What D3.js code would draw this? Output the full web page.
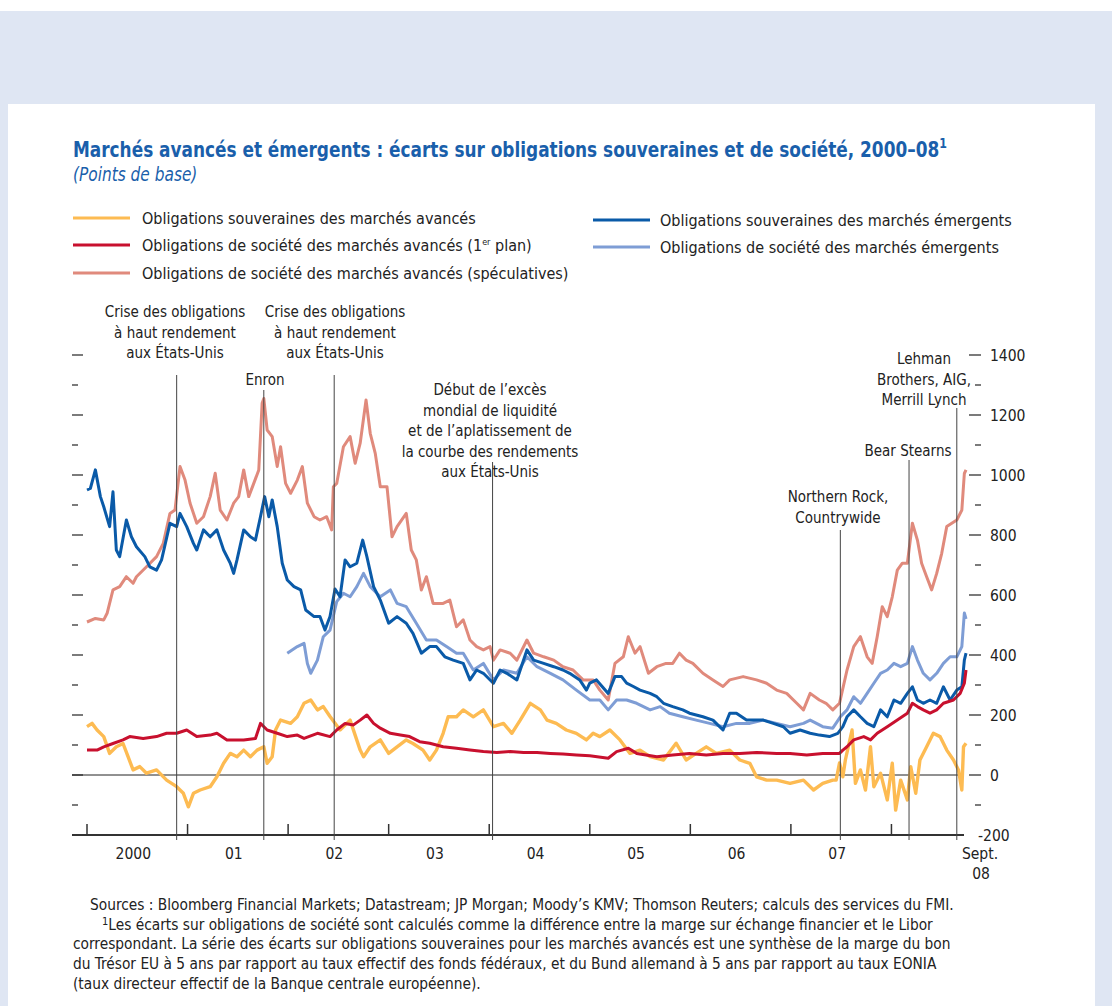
<!DOCTYPE html>
<html>
<head>
<meta charset="utf-8">
<script src="https://cdn.jsdelivr.net/npm/d3@7"></script>
<style>
  body { margin: 0; background: #fff; }
  svg text { font-family: "Liberation Sans Narrow", "DejaVu Sans Condensed", "Roboto Condensed", Roboto, sans-serif; }
</style>
</head>
<body>
<div id="chart"></div>
<script>
// Donnees : [mois depuis janv. 2000, points de base]
const matSov = [[0,161],[0.6,172],[1.2,150],[2.0,128],[2.7,72],[3.5,94],[4.3,105],[4.9,61],[5.5,17],[6.3,28],[7.1,6],[8.3,17],[9.5,-17],[10.7,-39],[11.5,-61],[12.1,-106],[12.7,-61],[13.5,-50],[14.7,-39],[15.5,-6],[16.3,39],[17.1,72],[17.9,61],[18.7,83],[19.5,61],[20.3,83],[21.1,94],[21.5,39],[22.1,61],[22.5,150],[23.1,183],[24.3,172],[25.1,194],[25.9,239],[26.7,250],[27.5,217],[28.2,228],[29.0,195],[30.2,150],[31.4,183],[32.6,83],[33.0,61],[33.8,94],[35.0,117],[36.0,72],[37.0,94],[38.1,117],[38.9,105],[40.1,83],[40.9,50],[41.7,83],[42.5,139],[43.1,194],[44.1,194],[44.9,217],[46.1,194],[47.3,217],[48.5,161],[49.7,172],[50.7,139],[51.7,183],[52.9,239],[54.1,217],[54.9,183],[56.0,172],[57.2,150],[58.4,139],[59.6,117],[60.4,139],[61.2,128],[62.4,150],[63.6,117],[64.8,72],[66.0,83],[67.2,61],[68.8,50],[70.3,106],[71.5,50],[72.7,72],[73.9,94],[75.1,72],[76.7,83],[77.9,50],[79.1,39],[79.9,-6],[81.1,-17],[82.3,-17],[83.9,-28],[85.5,-17],[86.7,-50],[87.8,-28],[89.0,-17],[89.4,-17],[89.8,40],[90.2,-6],[90.5,50],[91.3,150],[91.7,-28],[92.3,17],[92.9,-50],[93.5,94],[93.9,-39],[94.7,6],[95.5,-83],[96.1,39],[96.5,-117],[97.1,-17],[97.9,-83],[98.3,28],[98.9,-61],[99.4,50],[100.2,94],[101.0,139],[101.8,128],[102.6,83],[103.4,50],[104.0,17],[104.4,-50],[104.6,94],[104.9,106]]

const matCorpIG = [[0,83],[1.2,83],[2.0,94],[3.1,105],[4.3,117],[5.1,128],[6.7,122],[8.3,128],[9.5,139],[10.7,139],[11.9,150],[13.1,128],[14.7,133],[15.5,139],[16.7,117],[18.7,117],[20.1,122],[20.7,172],[21.5,150],[22.7,139],[23.9,128],[25.1,133],[25.9,122],[27.5,139],[29.0,128],[29.8,150],[30.8,172],[31.8,167],[32.6,183],[33.4,200],[34.2,172],[35.0,156],[36.2,139],[37.4,133],[38.5,128],[39.7,111],[40.9,106],[42.5,94],[44.1,89],[45.7,83],[47.3,78],[48.9,75],[50.5,78],[52.1,75],[53.7,75],[55.3,72],[56.8,70],[58.4,67],[60.0,64],[62.2,56],[63.2,78],[64.6,89],[65.6,72],[68.0,61],[69.9,67],[71.9,72],[73.9,67],[75.9,72],[77.9,72],[79.9,75],[82.3,72],[83.9,72],[85.9,67],[87.8,72],[89.8,72],[90.2,83],[90.7,94],[91.5,117],[92.7,128],[93.5,117],[94.3,139],[95.5,161],[96.7,183],[97.9,206],[98.5,239],[99.1,228],[99.8,217],[100.6,206],[101.4,217],[102.2,239],[103.4,250],[104.2,272],[104.7,306],[104.9,350]]

const matCorpHY = [[0,510],[1.0,522],[2.0,517],[2.4,539],[3.1,617],[3.9,628],[4.7,661],[5.5,639],[5.9,661],[7.1,694],[8.3,728],[9.1,772],[9.9,872],[10.5,883],[11.1,1028],[11.7,983],[12.3,906],[13.1,839],[13.9,861],[14.7,928],[15.3,1006],[15.9,883],[16.7,850],[17.5,906],[18.1,928],[18.7,1017],[19.3,928],[19.9,972],[20.5,1017],[20.9,1239],[21.1,1255],[21.5,1150],[22.1,1128],[22.7,1028],[23.1,1094],[23.7,972],[24.3,939],[25.1,983],[25.7,1028],[26.3,906],[27.1,861],[27.8,850],[28.6,861],[29.2,817],[29.4,961],[29.8,972],[30.6,1094],[31.4,1128],[32.0,1039],[32.6,1106],[33.3,1250],[33.8,1139],[34.4,1072],[35.0,961],[35.8,961],[36.4,794],[37.0,828],[38.1,872],[38.7,750],[39.3,717],[39.9,617],[40.5,661],[41.3,572],[42.5,572],[43.3,583],[44.1,494],[44.9,517],[45.7,450],[46.5,428],[47.3,417],[48.1,428],[48.5,383],[49.3,417],[50.5,406],[51.3,383],[52.5,450],[53.3,406],[54.5,394],[55.7,383],[56.8,361],[58.0,350],[59.2,317],[60.4,317],[61.2,283],[62.2,250],[63.0,372],[64.0,394],[64.6,461],[65.4,406],[66.0,428],[67.0,339],[68.0,361],[69.1,372],[69.9,372],[70.7,406],[71.5,383],[72.3,372],[73.5,339],[74.7,317],[75.9,295],[76.7,317],[78.3,328],[79.9,317],[81.1,306],[82.3,283],[83.5,272],[84.7,239],[85.5,217],[86.3,272],[87.4,250],[88.2,239],[89.0,217],[89.8,239],[90.7,350],[91.5,428],[92.3,461],[93.1,394],[93.7,372],[94.3,461],[94.9,561],[95.5,528],[96.1,594],[96.7,683],[97.3,706],[97.9,706],[98.5,839],[99.1,783],[99.6,706],[100.2,661],[100.8,617],[101.4,672],[102.0,739],[102.6,828],[103.2,839],[103.8,850],[104.4,883],[104.7,1005],[104.9,1017]]

const emSov = [[0,950],[0.4,955],[1.0,1017],[1.6,928],[2.0,894],[2.7,828],[3.1,944],[3.5,750],[3.9,728],[4.7,850],[5.3,794],[5.9,761],[6.9,728],[7.5,694],[8.3,683],[8.9,717],[9.9,839],[10.7,828],[11.1,872],[11.9,828],[12.7,772],[13.1,750],[13.9,817],[14.7,794],[15.5,817],[16.3,750],[17.1,706],[17.5,672],[17.9,717],[18.7,817],[19.5,794],[20.1,783],[20.7,861],[21.2,928],[21.7,861],[22.1,917],[22.7,828],[23.3,706],[23.9,650],[24.7,628],[25.5,617],[26.1,550],[27.1,528],[27.8,528],[28.4,483],[29.0,528],[29.6,620],[30.2,594],[30.8,717],[31.4,694],[32.2,706],[32.9,783],[33.4,728],[34.2,628],[35.0,583],[36.0,506],[37.0,528],[38.1,506],[38.9,472],[39.9,406],[40.9,428],[41.7,428],[42.7,394],[43.7,383],[44.9,372],[45.7,317],[46.5,350],[47.3,339],[48.5,306],[49.3,350],[50.1,339],[51.3,317],[52.5,417],[53.3,383],[54.5,372],[55.7,361],[56.8,350],[57.6,339],[58.8,317],[59.6,283],[60.0,306],[60.8,317],[62.2,272],[63.0,328],[63.8,328],[64.4,306],[65.2,295],[66.0,283],[67.2,272],[68.0,261],[68.8,239],[69.9,228],[71.1,217],[71.9,206],[73.5,194],[74.7,183],[75.9,150],[76.7,206],[77.5,206],[78.7,183],[79.5,183],[80.7,183],[81.9,172],[83.1,161],[83.9,139],[85.1,150],[86.3,139],[87.4,133],[88.6,128],[89.6,139],[90.2,161],[90.7,194],[91.5,217],[92.3,194],[93.1,172],[93.9,161],[94.7,217],[95.5,194],[96.3,250],[97.1,239],[97.9,272],[98.5,294],[99.1,250],[99.8,239],[100.6,250],[101.4,239],[102.2,294],[103.0,250],[103.8,283],[104.4,294],[104.7,383],[104.9,406]]

const emCorp = [[23.9,406],[25.1,428],[25.9,439],[26.3,372],[26.7,339],[27.5,383],[28.2,461],[29.0,483],[29.8,578],[30.6,606],[31.4,594],[32.2,628],[33.0,672],[33.8,628],[35.0,594],[36.2,617],[37.0,572],[38.1,561],[39.3,506],[40.5,450],[41.7,450],[42.9,428],[44.1,406],[44.9,406],[46.1,350],[47.3,372],[48.5,317],[49.7,350],[51.3,339],[52.5,394],[53.7,361],[55.3,339],[56.8,317],[58.4,283],[60.0,250],[61.2,250],[62.2,217],[63.2,250],[64.4,250],[65.6,239],[67.2,217],[68.4,228],[69.5,206],[71.1,194],[72.7,183],[74.3,172],[75.9,161],[77.5,172],[79.1,172],[80.7,183],[82.3,172],[83.9,161],[85.5,172],[86.3,183],[87.8,161],[89.0,156],[89.9,194],[90.7,217],[91.5,261],[92.3,239],[93.1,272],[93.9,306],[94.7,339],[95.5,350],[96.3,372],[97.1,361],[97.9,372],[98.5,428],[99.1,383],[99.8,339],[100.6,317],[101.4,339],[102.2,372],[103.0,394],[103.8,394],[104.4,428],[104.7,540],[104.9,520]]

const seriesNames = [
  "Obligations souveraines des marchés avancés",
  "Obligations de société des marchés avancés (1er plan)",
  "Obligations de société des marchés avancés (spéculatives)",
  "Obligations souveraines des marchés émergents",
  "Obligations de société des marchés émergents"
]
const seriesColors = ["#fdbb52", "#c8102e", "#e08a7c", "#0a5aa8", "#7e9dd5"]
const seriesData = [matSov, matCorpIG, matCorpHY, emSov, emCorp]
const drawOrder = [0, 2, 4, 3, 1]

const yearLabels = ["2000", "01", "02", "03", "04", "05", "06", "07"]
const yTicks = d3.range(-100, 1401, 100)
const yLabels = d3.range(-200, 1401, 200)

const events = [
  {m: 10.7, label: ["Crise des obligations", "à haut rendement", "aux États-Unis"]},
  {m: 21.1, label: ["Enron"]},
  {m: 29.5, label: ["Crise des obligations", "à haut rendement", "aux États-Unis"]},
  {m: 48.4, label: ["Début de l’excès", "mondial de liquidité", "et de l’aplatissement de", "la courbe des rendements", "aux États-Unis"]},
  {m: 89.9, label: ["Northern Rock,", "Countrywide"]},
  {m: 98.1, label: ["Bear Stearns"]},
  {m: 103.8, label: ["Lehman", "Brothers, AIG,", "Merrill Lynch"]}
]
// placement des etiquettes (haut du trait, centre du texte, premiere ligne)
const eventLayout = [
  {top: 375, cx: 175, y0: 317},
  {top: 390, cx: 265, y0: 385},
  {top: 375, cx: 335, y0: 317},
  {top: 462, cx: 490, y0: 395},
  {top: 530, cx: 838, y0: 502},
  {top: 460, cx: 908, y0: 456},
  {top: 408, cx: 924, y0: 364}
]

const width = 1112, height = 1006
const svg = d3.select('#chart').append('svg').attr('width', width).attr('height', height)

// fond
svg.append('rect').attr('width', width).attr('height', height).attr('fill', '#fff')
svg.append('rect').attr('x', 0).attr('y', 11).attr('width', width).attr('height', height - 11).attr('fill', '#dfe6f3')
svg.append('rect').attr('x', 8).attr('y', 104).attr('width', 1087).attr('height', height - 104).attr('fill', '#fff')

const x = d3.scaleLinear().domain([0, 108]).range([87, 992])
const y = d3.scaleLinear().domain([-200, 1400]).range([835, 355])
const plotLeft = 72, plotRight = 964

// titre (police resserree horizontalement)
const title = svg.append('text').attr('transform', 'translate(73,157) scale(0.875,1)')
  .attr('fill', '#1a5fab').attr('font-size', 21.5).attr('font-weight', 'bold')
  .text('Marchés avancés et émergents : écarts sur obligations souveraines et de société, 2000–08')
title.append('tspan').attr('dy', -9).attr('font-size', 14).text('1')
svg.append('text').attr('transform', 'translate(73,181) scale(0.9,1)')
  .attr('fill', '#1a5fab').attr('font-size', 19).attr('font-style', 'italic')
  .text('(Points de base)')

// legende
const legendPos = [[73, 218], [73, 245], [73, 273], [593, 220], [593, 247]]
seriesNames.forEach((name, i) => {
  const [lx, ly] = legendPos[i]
  const g = svg.append('g').attr('transform', `translate(${lx},${ly})`)
  g.append('line').attr('x1', 0).attr('x2', 57).attr('stroke', seriesColors[i]).attr('stroke-width', 3)
  const t = g.append('text').attr('x', i < 3 ? 69 : 67).attr('y', 6).attr('font-size', 16).attr('fill', '#222')
  if (name.includes('1er')) {
    t.append('tspan').text('Obligations de société des marchés avancés (1')
    t.append('tspan').attr('font-size', 9).attr('dy', -6).text('er')
    t.append('tspan').attr('dy', 6).text(' plan)')
  } else {
    t.text(name)
  }
})

// axes
const axisG = svg.append('g')
yTicks.forEach(v => {
  const major = v % 200 === 0
  axisG.append('line').attr('x1', plotLeft).attr('x2', plotLeft + (major ? 11 : 6))
    .attr('y1', y(v)).attr('y2', y(v)).attr('stroke', '#333').attr('stroke-width', 1.3)
  axisG.append('line').attr('x1', 981 - (major ? 12 : 6)).attr('x2', 981)
    .attr('y1', y(v)).attr('y2', y(v)).attr('stroke', '#333').attr('stroke-width', 1.3)
})
yLabels.forEach(v => {
  axisG.append('text').attr('x', v < 0 ? 978 : 990).attr('y', y(v) + 5.5)
    .attr('font-size', 15.5).attr('fill', '#222').text(v)
})
axisG.append('line').attr('x1', plotLeft).attr('x2', plotRight).attr('y1', y(0)).attr('y2', y(0))
  .attr('stroke', '#222').attr('stroke-width', 1)
axisG.append('line').attr('x1', plotLeft).attr('x2', plotRight).attr('y1', y(-200)).attr('y2', y(-200))
  .attr('stroke', '#333').attr('stroke-width', 2)
d3.range(0, 97, 12).forEach(m => {
  axisG.append('line').attr('x1', x(m)).attr('x2', x(m)).attr('y1', y(-200)).attr('y2', y(-200) - 11)
    .attr('stroke', '#333').attr('stroke-width', 1.5)
})
yearLabels.forEach((lab, i) => {
  axisG.append('text').attr('x', x(i * 12 + 6) - 4).attr('y', 859).attr('text-anchor', 'middle')
    .attr('font-size', 15.5).attr('fill', '#222').text(lab)
})
axisG.append('text').attr('x', 980).attr('y', 859).attr('text-anchor', 'middle').attr('font-size', 15.5).attr('fill', '#222').text('Sept.')
axisG.append('text').attr('x', 981).attr('y', 879).attr('text-anchor', 'middle').attr('font-size', 15.5).attr('fill', '#222').text('08')

// series
const line = d3.line().x(d => x(d[0])).y(d => y(d[1]))
drawOrder.forEach(i => {
  svg.append('path').datum(seriesData[i]).attr('d', line)
    .attr('fill', 'none').attr('stroke', seriesColors[i]).attr('stroke-width', i === 0 ? 3.4 : 3)
    .attr('stroke-linejoin', 'round')
})

// evenements
events.forEach((ev, i) => {
  const lay = eventLayout[i]
  svg.append('line').attr('x1', x(ev.m)).attr('x2', x(ev.m)).attr('y1', lay.top).attr('y2', 840)
    .attr('stroke', '#444').attr('stroke-width', 1)
  ev.label.forEach((l, j) => {
    svg.append('text').attr('x', lay.cx).attr('y', lay.y0 + j * 20.5).attr('text-anchor', 'middle')
      .attr('font-size', 15).attr('fill', '#222').text(l)
  })
})

// notes
const notes = [
  "Sources : Bloomberg Financial Markets; Datastream; JP Morgan; Moody’s KMV; Thomson Reuters; calculs des services du FMI.",
  "Les écarts sur obligations de société sont calculés comme la différence entre la marge sur échange financier et le Libor",
  "correspondant. La série des écarts sur obligations souveraines pour les marchés avancés est une synthèse de la marge du bon",
  "du Trésor EU à 5 ans par rapport au taux effectif des fonds fédéraux, et du Bund allemand à 5 ans par rapport au taux EONIA",
  "(taux directeur effectif de la Banque centrale européenne)."
]
notes.forEach((n, i) => {
  const t = svg.append('text').attr('x', i === 0 ? 90 : (i === 1 ? 102 : 73)).attr('y', 910 + i * 19.7)
    .attr('font-size', 15.3).attr('fill', '#222')
  if (i === 1) {
    t.append('tspan').attr('font-size', 11).attr('dy', -5).text('1')
    t.append('tspan').attr('dy', 5).text(n)
  } else t.text(n)
})
</script>
</body>
</html>
